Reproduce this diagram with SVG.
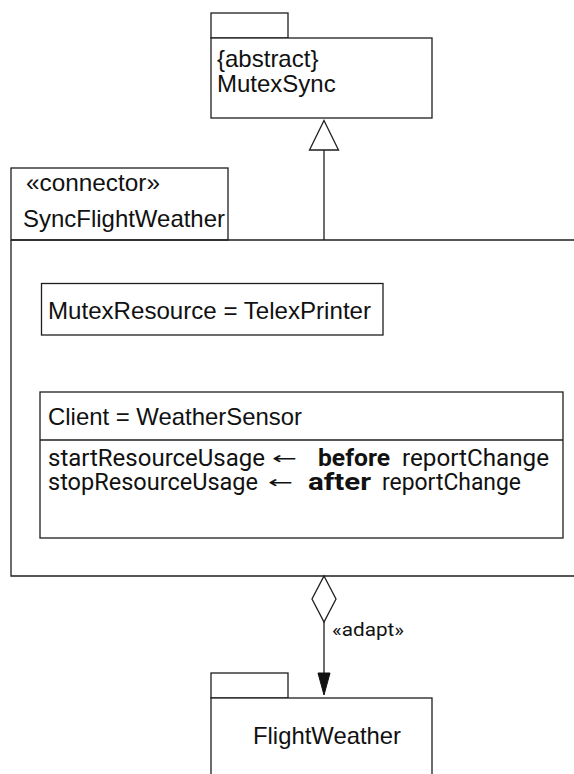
<svg xmlns="http://www.w3.org/2000/svg" width="574" height="774" viewBox="0 0 574 774">
  <style>
    .ln { fill: none; stroke: #1e1e1e; stroke-width: 1.3; }
    .box { fill: #ffffff; stroke: #1e1e1e; stroke-width: 1.3; }
    .t { font-family: "Liberation Sans", Arial, sans-serif; font-size: 24px; fill: #111111; }
    .m { font-family: Roboto, "Open Sans", sans-serif; font-size: 23px; fill: #111111; }
    .arr { font-family: "DejaVu Sans", sans-serif; font-size: 17px; fill: #111111; }
    .b { font-weight: 700; }
    .s { font-family: Roboto, "Open Sans", sans-serif; font-size: 18px; fill: #111111; }
  </style>

  <rect width="574" height="774" fill="#ffffff"/>

  <!-- abstract package -->
  <g id="mutexsync">
    <rect class="box" x="211" y="13" width="77" height="25"/>
    <rect class="box" x="211" y="38" width="221" height="80"/>
    <text class="t" x="217" y="67">{abstract}</text>
    <text class="t" x="217" y="92">MutexSync</text>
  </g>

  <!-- connector frame, open on the right -->
  <g id="syncflightweather">
    <rect class="box" x="11" y="168" width="217" height="72"/>
    <path class="ln" d="M11 240 H574 M11 240 V576 H574"/>
    <text class="t" x="26" y="191" textLength="134" lengthAdjust="spacingAndGlyphs">«connector»</text>
    <text class="t" x="23" y="227" textLength="202" lengthAdjust="spacingAndGlyphs">SyncFlightWeather</text>
  </g>

  <g id="mutexresource">
    <rect class="box" x="41.5" y="283.5" width="341.5" height="51.5"/>
    <text class="t" x="48" y="319" textLength="323" lengthAdjust="spacingAndGlyphs">MutexResource = TelexPrinter</text>
  </g>

  <g id="client">
    <rect class="box" x="40" y="392" width="523" height="146"/>
    <line class="ln" x1="40" y1="440" x2="563" y2="440"/>
    <text class="t" x="48" y="425" textLength="254" lengthAdjust="spacingAndGlyphs">Client = WeatherSensor</text>
    <text class="m" x="48" y="466" textLength="217" lengthAdjust="spacingAndGlyphs">startResourceUsage</text>
    <text class="arr" x="272" y="464" textLength="25" lengthAdjust="spacingAndGlyphs">←</text>
    <text class="m b" x="318" y="466" textLength="72" lengthAdjust="spacingAndGlyphs">before</text>
    <text class="m" x="402" y="466" textLength="147" lengthAdjust="spacingAndGlyphs">reportChange</text>
    <text class="m" x="48" y="490" textLength="210" lengthAdjust="spacingAndGlyphs">stopResourceUsage</text>
    <text class="arr" x="268" y="488" textLength="25" lengthAdjust="spacingAndGlyphs">←</text>
    <text class="m b" x="308" y="490" textLength="63" lengthAdjust="spacingAndGlyphs">after</text>
    <text class="m" x="382" y="490" textLength="139" lengthAdjust="spacingAndGlyphs">reportChange</text>
  </g>

  <!-- adapted package -->
  <g id="flightweather">
    <rect class="box" x="211" y="673" width="77" height="25"/>
    <rect class="box" x="211" y="698" width="221" height="90"/>
    <text class="t" x="253" y="744" textLength="148" lengthAdjust="spacingAndGlyphs">FlightWeather</text>
  </g>

  <g id="connectors">
    <!-- generalization -->
    <line class="ln" x1="324" y1="240" x2="324" y2="150"/>
    <path d="M324 120.5 L338.5 150 L309.5 150 Z" fill="#ffffff" stroke="#1e1e1e" stroke-width="1.3"/>
    <!-- adapt association -->
    <path d="M324 576 L336 599 L324 622 L312 599 Z" fill="#ffffff" stroke="#1e1e1e" stroke-width="1.3"/>
    <line class="ln" x1="324" y1="622" x2="324" y2="675"/>
    <path d="M318 673 L330 673 L324 695 Z" fill="#111111" stroke="#111111" stroke-width="1"/>
    <text class="s" x="332" y="636" textLength="72" lengthAdjust="spacingAndGlyphs">«adapt»</text>
  </g>
</svg>
